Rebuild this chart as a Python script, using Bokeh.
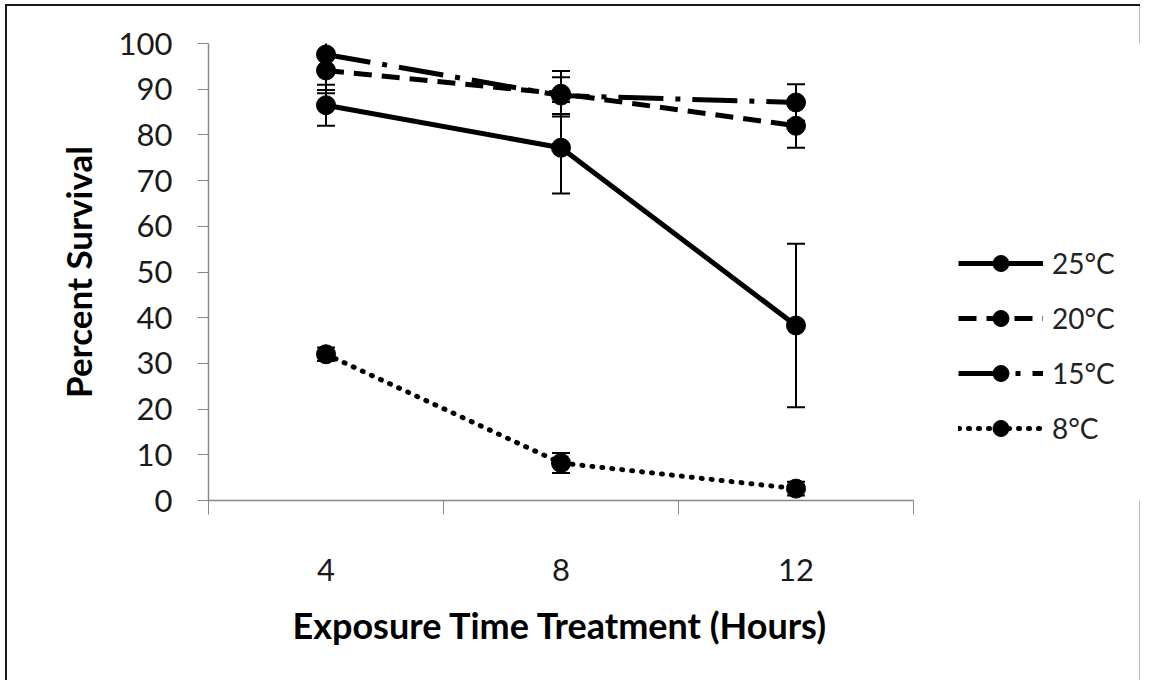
from bokeh.plotting import figure
from bokeh.models import (ColumnDataSource, Range1d, FixedTicker, Whisker, TeeHead,
                          Legend, LegendItem, Title)
from bokeh.embed import file_html
from bokeh.resources import INLINE

# ---- data ----
hours = ["4", "8", "12"]
series_names = ["25°C", "20°C", "15°C", "8°C"]
surv_25 = [86.5, 77.2, 38.3]
err_25 = [4.5, 10.0, 17.9]
surv_20 = [94.1, 89.0, 82.0]
err_20 = [4.3, 5.0, 4.8]
surv_15 = [97.6, 88.6, 87.1]
err_15 = [8.5, 4.0, 4.0]
surv_8 = [32.0, 8.2, 2.6]
err_8 = [1.5, 2.2, 1.5]
y_ticks = [0, 10, 20, 30, 40, 50, 60, 70, 80, 90, 100]
x_title = "Exposure Time Treatment (Hours)"
y_title = "Percent Survival"

FONT = "Lato"
x_pos = [i + 0.5 for i in range(len(hours))]

W, H = 1140, 680
LEFT, TOP, BOTTOM_Y = 208, 43, 500
PX_PER_CAT = 235
p = figure(width=W, height=H, output_backend="svg", toolbar_location=None,
           x_range=Range1d(0, (W - LEFT) / PX_PER_CAT), y_range=Range1d(0, 100),
           min_border_left=LEFT, min_border_right=0, min_border_top=TOP,
           min_border_bottom=H - BOTTOM_Y)
p.outline_line_color = None
p.grid.grid_line_color = None
p.background_fill_color = "white"
p.border_fill_alpha = 0
p.styles = {
    "background-color": "white",
    "box-shadow": "inset 5px 4px 0 0 white, inset 7px 6px 0 0 #1a1a1a, "
                  "inset -1px 0 0 0 #bbbbbb",
}

styles = [
    (series_names[0], surv_25, err_25, None),
    (series_names[1], surv_20, err_20, "18 10"),
    (series_names[2], surv_15, err_15, "45 12 5 12"),
    (series_names[3], surv_8, err_8, "1 9"),
]

items = []
for name, vals, errs, dash in styles:
    src = ColumnDataSource(dict(
        x=x_pos, y=vals,
        lo=[v - e for v, e in zip(vals, errs)],
        hi=[v + e for v, e in zip(vals, errs)],
    ))
    w = Whisker(base="x", lower="lo", upper="hi", source=src,
                line_color="black", line_width=2,
                upper_head=TeeHead(size=18, line_width=2, line_color="black"),
                lower_head=TeeHead(size=18, line_width=2, line_color="black"))
    p.add_layout(w)
    kw = dict(line_color="black", line_width=5)
    if dash is not None:
        kw["line_dash"] = dash
    if dash == "1 9":
        kw["line_cap"] = "round"
    lr = p.line("x", "y", source=src, **kw)
    sr = p.scatter("x", "y", source=src, size=19, fill_color="black",
                   line_color="black")
    items.append(LegendItem(label=name, renderers=[lr, sr]))

legend = Legend(items=items, location=(750, 52), padding=0, margin=0,
                spacing=15, glyph_width=85, glyph_height=40, label_height=40,
                label_standoff=9, label_text_font=FONT,
                label_text_font_size="28px", label_text_color="#222222",
                border_line_color=None, background_fill_alpha=0)
p.add_layout(legend)

# ---- y axis ----
ya = p.yaxis[0]
ya.ticker = FixedTicker(ticks=y_ticks)
ya.axis_line_color = "#888888"
ya.axis_line_width = 1.5
ya.major_tick_line_color = "#888888"
ya.major_tick_out = 11
ya.major_tick_in = 0
ya.minor_tick_line_color = None
ya.major_label_standoff = 25
ya.major_label_text_font = FONT
ya.major_label_text_font_size = "31px"
ya.major_label_text_color = "#1a1a1a"
ya.axis_label = y_title
ya.axis_label_text_font = FONT
ya.axis_label_text_font_style = "bold"
ya.axis_label_text_font_size = "35px"
ya.axis_label_text_color = "black"
ya.axis_label_standoff = 17

# ---- x axis ----
xa = p.xaxis[0]
xa.bounds = (0, len(hours))
xa.ticker = FixedTicker(ticks=x_pos, minor_ticks=list(range(len(hours) + 1)))
xa.major_label_overrides = {xp: h for xp, h in zip(x_pos, hours)}
xa.axis_line_color = "#888888"
xa.axis_line_width = 1.5
xa.major_tick_line_color = None
xa.minor_tick_line_color = "#888888"
xa.minor_tick_out = 14
xa.minor_tick_in = 0
xa.major_tick_out = 14
xa.major_tick_in = 0
xa.major_label_standoff = 44
xa.major_label_text_font = FONT
xa.major_label_text_font_size = "31px"
xa.major_label_text_color = "#1a1a1a"

# x-axis title, centred under the category span (not the whole frame)
p.add_layout(Title(text=x_title, align="left", offset=84, standoff=34,
                   text_font=FONT, text_font_style="bold",
                   text_font_size="36px", text_color="black"), "below")

open("out.html", "w").write(file_html(p, INLINE))
